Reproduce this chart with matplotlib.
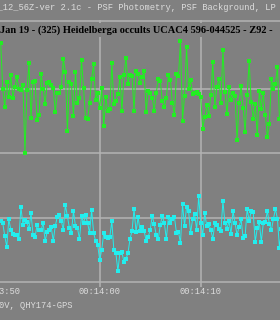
import matplotlib
matplotlib.use("Agg")
import matplotlib.pyplot as plt
import numpy as np

# Light curves (arbitrary intensity units), one frame every 0.2 s
t_start = -9.83          # seconds relative to 00:14:00
frame_dt = 0.2

green = [239, 193, 175, 200, 185, 207, 184, 195, 205, 193, 192, 197, 129, 192, 219, 164, 200, 201,
         162, 167, 208, 193, 178, 199, 200, 197, 194, 170, 189, 189, 195, 223, 210, 151, 200, 198,
         166, 210, 179, 184, 222, 194, 164, 163, 179, 203, 218, 182, 189, 174, 194, 156, 185, 171,
         173, 219, 178, 181, 188, 205, 171, 207, 224, 198, 207, 206, 171, 211, 208,
         199, 205, 211, 170, 191, 189, 184, 171, 189, 203, 201, 181, 175, 184, 207, 202, 179, 167,
         208, 206, 241, 161, 186, 235, 193, 202, 188, 189, 190, 188, 185, 153, 165, 177, 166, 187,
         220, 175, 195, 203, 179, 232, 190, 168, 195, 182, 189, 186, 142, 179, 196, 174, 150, 187,
         221, 180, 163, 178, 147, 191, 173, 189, 167, 145, 158, 203, 193, 198, 215, 163]

cyan = [61, 59, 46, 35, 63, 52, 48, 47, 47, 43, 75, 57, 62, 60, 53, 69, 47, 45, 57, 52, 52, 59,
        41, 50, 52, 55, 41, 56, 65, 67, 61, 52, 77, 66, 54, 49, 71, 56, 54, 43, 66, 59, 67, 59,
        49, 72, 49, 41, 37, 22, 32, 49, 45, 44, 45, 61, 32, 29, 11, 29, 30, 20, 23, 29, 43, 51,
        73, 50, 65, 51,
        55, 51, 41, 45, 52, 66, 58, 47, 43, 57, 66, 59, 43, 65, 59, 63, 65, 49, 50, 39, 78, 56,
        75, 71, 49, 63, 68, 52, 86, 59, 47, 69, 56, 58, 52, 43, 59, 57, 53, 51, 81, 59, 53, 61,
        48, 71, 59, 47, 55, 63, 44, 46, 73, 61, 71, 70, 40, 54, 60, 40, 59, 60, 71, 58, 52, 63,
        73, 63, 34, 53]

tick_pos = [-10, 0, 10]
tick_labels = ["00:13:50", "00:14:00", "00:14:10"]

header = "00_12_56Z-ver 2.1c - PSF Photometry, PSF Background, LP Filter"
title = "Jan 19 - (325) Heidelberga occults UCAC4 596-044525 - Z92 - "
footer = "0V, QHY174-GPS"

bg = "#808080"
grid_col = "#b4b4b4"
text_col = "#dcdcdc"

W, H = 280, 320
fig = plt.figure(figsize=(W / 100, H / 100), dpi=100, facecolor=bg)

# axes box in pixels: x 0..280, y 20..287 (from top)
ax = fig.add_axes([0, (H - 287) / H, 1, (287 - 20) / H])
ax.set_facecolor(bg)
for s in ax.spines.values():
    s.set_visible(False)
ax.set_xlim(-100 / 10.1, 180 / 10.1)
ax.set_ylim(-5, 262)
ax.set_xticks([])
ax.set_yticks([])

for yv in np.arange(4) * 64.3:
    ax.axhline(yv, color=grid_col, lw=1.1, zorder=1)
ax.axhline(261, color=grid_col, lw=1.1, zorder=1)
for xv in tick_pos:
    ax.axvline(xv, color=grid_col, lw=1.1, zorder=1)

tg = t_start + frame_dt * np.arange(len(green))
tc = t_start + frame_dt * np.arange(len(cyan))
ax.plot(tg, green, color="#22ee22", lw=0.7, marker="s", ms=2.3, mew=0, zorder=3)
ax.plot(tc, cyan, color="#22eeee", lw=0.7, marker="s", ms=2.3, mew=0, zorder=3)

for xv, lab in zip(tick_pos, tick_labels):
    ax.text(xv, -5 / 267, lab, transform=ax.get_xaxis_transform(), ha="center", va="center",
            family="Liberation Mono", fontsize=6.3, color=text_col, clip_on=False)

fig.text(-13.25 / W, 1 - 8 / H, header, family="Liberation Mono", fontsize=6.3, color=text_col,
         ha="left", va="center")
fig.text(0, 1 - 30 / H, title, family="Liberation Serif", weight="bold", fontsize=7.5,
         color="black", ha="left", va="center", zorder=5,
         bbox=dict(facecolor=bg, edgecolor="none", pad=1.5))
fig.text(-1 / W, 1 - 306 / H, footer, family="Liberation Mono", fontsize=6.3, color=text_col,
         ha="left", va="center")

fig.savefig("out.png", dpi=100, facecolor=bg)
